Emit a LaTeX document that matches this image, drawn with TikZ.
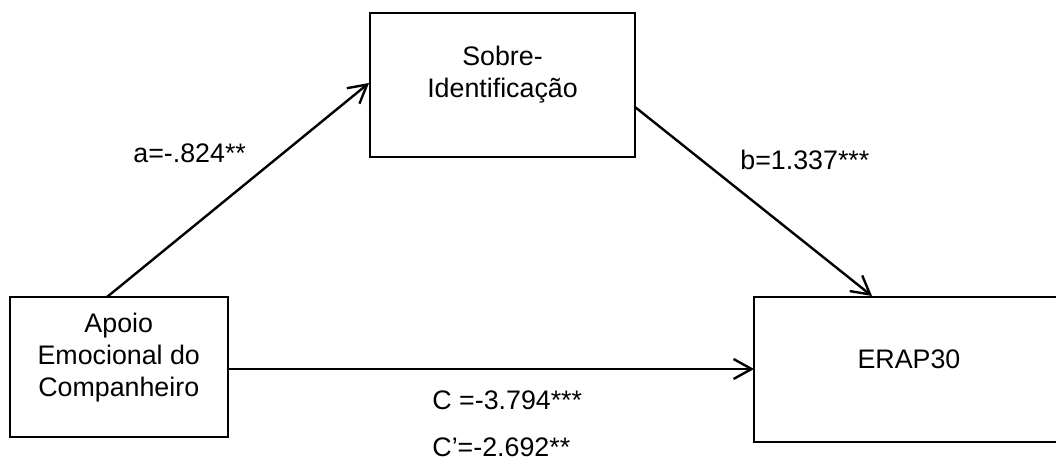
\documentclass[tikz,border=0pt]{standalone}
\usepackage{fontspec}
\setmainfont{Liberation Sans}
\usetikzlibrary{arrows.meta}
\begin{document}
\begin{tikzpicture}[x=0.5pt,y=-0.5pt,
  box/.style={draw=black, line width=1pt, rectangle, inner sep=0pt},
  txt/.style={font=\fontsize{13.4pt}{16pt}\selectfont, align=center, inner sep=0pt},
  lbl/.style={font=\fontsize{13.4pt}{16pt}\selectfont, inner sep=0pt},
  path/.style={draw=black, line width=1.2pt,
    -{Straight Barb[length=9pt,width=10pt,line width=1.2pt]}}
]
\clip (0,0) rectangle (1056,466);
\fill[white] (0,0) rectangle (1056,466);

% boxes (the outcome box runs past the right margin)
\node[box, minimum width=109.25pt, minimum height=70pt] (iv) at (118.75,367) {};
\node[box, minimum width=132.5pt, minimum height=72pt] (med) at (502.5,85) {};
\node[box, minimum width=156pt, minimum height=72.5pt] (dv) at (910,369.5) {};

% box texts
\node[txt] (ivt) at (118.75,358) {Apoio\\Emocional do\\Companheiro};
\node[txt] (medt) at (502.5,74.5) {Sobre-\\Identificação};
\node[txt] (dvt) at (909,359) {ERAP30};

% endpoints on the box borders
\coordinate (aS) at (107,297);
\coordinate (aE) at (369,83);
\coordinate (bS) at (635,107);
\coordinate (bE) at (872,296);
\coordinate (cS) at (228,369);
\coordinate (cE) at (754,369);

\draw[path] (aS) -- (aE);
\draw[path] (bS) -- (bE);
\draw[path] (cS) -- (cE);

% path coefficients
\node[lbl, anchor=west] (la) at (133,153) {a=-.824**};
\node[lbl, anchor=west] (lb) at (740,160) {b=1.337***};
\node[lbl, anchor=west] (lc) at (432,400) {C =-3.794***};
\node[lbl, anchor=west] (lcp) at (432,447) {C’=-2.692**};
\end{tikzpicture}
\end{document}
